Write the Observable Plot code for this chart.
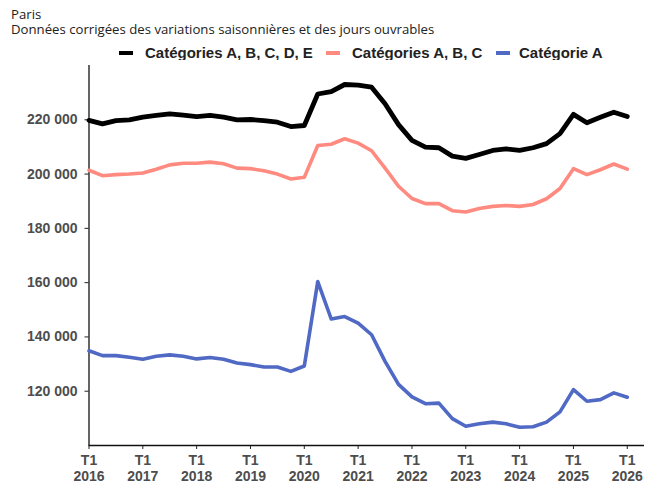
<!DOCTYPE html>
<html>
<head>
<meta charset="utf-8">
<script src="https://cdn.jsdelivr.net/npm/d3@7"></script>
<script src="https://cdn.jsdelivr.net/npm/@observablehq/plot@0.6"></script>
<style>
  body { margin: 0; background: #fff; width: 654px; height: 483px; position: relative; overflow: hidden; }
  .ttl { position: absolute; left: 11px; font-family: "Open Sans", Lato, sans-serif; font-size: 13.2px; line-height: 15px; color: #222; white-space: nowrap; }
  #title1 { top: 7px; }
  #title2 { top: 22px; }
  #legend { position: absolute; left: 0; top: 44px; width: 654px; height: 18px; font-family: "Liberation Sans", Arial, sans-serif; font-weight: bold; font-size: 15px; color: #222; white-space: nowrap; }
  .sw { position: absolute; top: 7px; width: 14px; height: 4px; }
  .tx { position: absolute; top: 0; line-height: 18px; }
  #chart { position: absolute; left: 0; top: 60px; }
</style>
</head>
<body>
<div id="title1" class="ttl">Paris</div>
<div id="title2" class="ttl">Données corrigées des variations saisonnières et des jours ouvrables</div>
<div id="legend"></div>
<div id="chart"></div>
<script>
const periods = [
  "2016T1","2016T2","2016T3","2016T4","2017T1","2017T2","2017T3","2017T4",
  "2018T1","2018T2","2018T3","2018T4","2019T1","2019T2","2019T3","2019T4",
  "2020T1","2020T2","2020T3","2020T4","2021T1","2021T2","2021T3","2021T4",
  "2022T1","2022T2","2022T3","2022T4","2023T1","2023T2","2023T3","2023T4",
  "2024T1","2024T2","2024T3","2024T4","2025T1","2025T2","2025T3","2025T4","2026T1"
];
const catABCDE = [
  219800,218500,219700,220000,221000,221600,222200,221700,
  221200,221600,221000,220000,220100,219700,219100,217500,
  217900,229500,230400,233000,232800,232000,225900,218200,
  212400,209900,209700,206600,205800,207200,208700,209300,
  208700,209700,211200,214900,222000,218900,220900,222800,221200
];
const catABC = [
  201400,199400,199800,200000,200400,201800,203400,204000,
  204000,204400,203800,202200,202000,201200,200000,198200,
  198800,210500,211000,213000,211400,208600,202200,195500,
  191000,189100,189100,186500,186000,187300,188100,188400,
  188100,188800,190900,194700,202000,199800,201600,203700,201800
];
const catA = [
  134900,133100,133100,132500,131800,132900,133400,132900,
  131900,132400,131800,130400,129800,128900,128900,127300,
  129300,160400,146600,147500,145100,140800,131000,122500,
  117900,115400,115600,109900,107100,108000,108600,108000,
  106700,106900,108600,112400,120600,116300,116900,119400,117800
];
const seriesNames = ["Catégories A, B, C, D, E", "Catégories A, B, C", "Catégorie A"];
const seriesColors = ["#000000", "#ff8a80", "#4f69c4"];
const seriesWidths = [4.8, 3.6, 3.6];
const yTicks = [120000, 140000, 160000, 180000, 200000, 220000];
const xTickYears = [2016, 2017, 2018, 2019, 2020, 2021, 2022, 2023, 2024, 2025, 2026];

const toX = p => +p.slice(0, 4) + (+p.slice(5) - 1) / 4;
const allValues = [catABCDE, catABC, catA];
const rows = [];
allValues.forEach((vals, s) => vals.forEach((v, i) => rows.push({ t: toX(periods[i]), v, s: seriesNames[s] })));

const fr = d3.formatLocale({ decimal: ",", thousands: " ", grouping: [3], currency: ["", ""] });
const fmt = fr.format(",d");

// legend: item layout positions
const swLeft = [119, 326, 496];
const txLeft = [145, 352, 519];
const lg = document.getElementById("legend");
seriesNames.forEach((n, i) => {
  const sw = document.createElement("div"); sw.className = "sw";
  sw.style.background = seriesColors[i]; sw.style.left = swLeft[i] + "px";
  const tx = document.createElement("div"); tx.className = "tx";
  tx.style.left = txLeft[i] + "px"; tx.textContent = n;
  lg.appendChild(sw); lg.appendChild(tx);
});

const chart = Plot.plot({
  width: 654,
  height: 423,
  marginLeft: 88.5,
  marginRight: 10,
  marginTop: 5,
  marginBottom: 38,
  style: { fontFamily: "'Liberation Sans', Arial, sans-serif", fontSize: "14px", color: "#4d4d4d", background: "#fff", overflow: "visible" },
  x: { domain: [2016, 2026.32] },
  y: { domain: [100000, 240000] },
  marks: [
    Plot.axisY({ ticks: yTicks, tickFormat: fmt, tickSize: 4, tickPadding: 7.5, fontWeight: "bold", fontSize: 14, label: null, stroke: "#222", fill: "#4d4d4d" }),
    Plot.axisX({ ticks: xTickYears, tickFormat: d => "T1\n" + d, tickSize: 4, tickPadding: 4.5, fontWeight: "bold", fontSize: 14, lineHeight: 1.13, label: null, stroke: "#222", fill: "#4d4d4d" }),
    Plot.ruleX([2016], { stroke: "#111", strokeWidth: 1.3 }),
    Plot.ruleY([100000], { stroke: "#111", strokeWidth: 1.3 }),
    ...seriesNames.map((n, i) => Plot.line(rows.filter(r => r.s === n), { x: "t", y: "v", stroke: seriesColors[i], strokeWidth: seriesWidths[i], strokeLinejoin: "round" }))
  ]
});
document.getElementById("chart").appendChild(chart);
</script>
</body>
</html>
